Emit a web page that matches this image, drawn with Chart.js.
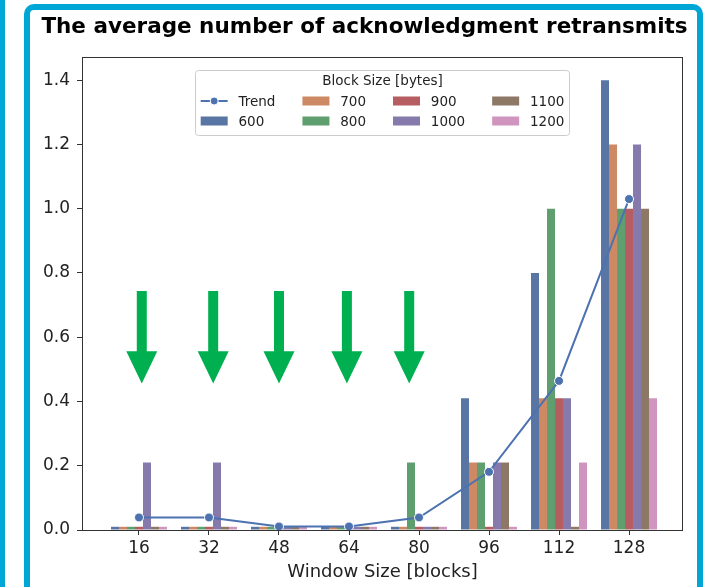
<!DOCTYPE html>
<html>
<head>
<meta charset="utf-8">
<script src="https://cdn.jsdelivr.net/npm/chart.js@4.4.1/dist/chart.umd.min.js"></script>
<style>
	html, body { margin:0; padding:0; background:#fff; }
	body { width:710px; height:587px; overflow:hidden; position:relative; }
	.side { position:absolute; left:0; top:0; width:5px; height:587px; background:#00a6d6; }
	.frame { position:absolute; left:24px; top:4px; width:679px; height:640px; border:6px solid #00a6d6; border-radius:10px; box-sizing:border-box; }
	#chart { position:absolute; left:0; top:0; }
</style>
</head>
<body>
<div class='side'></div>
<div class='frame'></div>
<canvas id='chart' width='710' height='587'></canvas>
<script>
const chartTitle = 'The average number of acknowledgment retransmits'
const windowSizes = ['16', '32', '48', '64', '80', '96', '112', '128']
const blockSizes = ['600', '700', '800', '900', '1000', '1100', '1200']
const yTicks = [0, 0.2, 0.4, 0.6, 0.8, 1.0, 1.2, 1.4]

// retransmits per block size, one value per window size
const bytes600 = [0.01, 0.01, 0.01, 0.01, 0.01, 0.41, 0.80, 1.40]
const bytes700 = [0.01, 0.01, 0.01, 0.01, 0.01, 0.21, 0.41, 1.20]
const bytes800 = [0.01, 0.01, 0.01, 0.01, 0.21, 0.21, 1.00, 1.00]
const bytes900 = [0.01, 0.01, 0.01, 0.01, 0.01, 0.01, 0.41, 1.00]
const bytes1000 = [0.21, 0.21, 0.01, 0.01, 0.01, 0.21, 0.41, 1.20]
const bytes1100 = [0.01, 0.01, 0.01, 0.01, 0.01, 0.21, 0.01, 1.00]
const bytes1200 = [0.01, 0.01, 0.01, 0.01, 0.01, 0.01, 0.21, 0.41]
const trend = [0.039, 0.039, 0.011, 0.011, 0.039, 0.181, 0.464, 1.03]

// green arrows (slide annotation), in data units
const arrowX = [0.04, 1.06, 2.0, 2.97, 3.86]
const arrowTop = 0.744
const arrowNeck = 0.556
const arrowTip = 0.456

const barColors = ['#5975a4', '#cc8963', '#5f9e6e', '#b55d60', '#857aab', '#8d7866', '#d095bf']
const barSeries = [bytes600, bytes700, bytes800, bytes900, bytes1000, bytes1100, bytes1200]

const FONT = '"DejaVu Sans", sans-serif'
const TEXT = '#222'

const toPoints = arr => arr.map((v, i) => ({ x:i, y:v }))

const datasets = [
	{
		type:'line',
		label:'Trend',
		data:toPoints(trend),
		borderColor:'#4c72b0',
		backgroundColor:'#4c72b0',
		borderWidth:2,
		pointRadius:4.5,
		pointBackgroundColor:'#4c72b0',
		pointBorderColor:'#fff',
		pointBorderWidth:1,
		tension:0
	}
]
blockSizes.forEach((size, i) => {
	datasets.push({
		type:'bar',
		label:size,
		data:toPoints(barSeries[i]),
		backgroundColor:barColors[i],
		borderWidth:0,
		categoryPercentage:0.8,
		barPercentage:1
	})
})

// title sits a bit left of the axes centre, as on the slide
const slideTitle = {
	id:'slideTitle',
	afterDraw(chart){
		const { ctx, chartArea:a } = chart
		ctx.save()
		ctx.font = `bold 21.5px ${FONT}`
		ctx.fillStyle = '#000'
		ctx.textAlign = 'center'
		ctx.textBaseline = 'middle'
		ctx.fillText(chartTitle, (a.right + 46) / 2, 27)
		ctx.restore()
	}
}

const frameBox = {
	id:'frameBox',
	afterDatasetsDraw(chart){
		const { ctx, chartArea:a } = chart
		ctx.save()
		ctx.strokeStyle = '#333'
		ctx.lineWidth = 1
		ctx.strokeRect(a.left + 0.5, a.top + 0.5, a.right - a.left - 1, a.bottom - a.top)
		ctx.restore()
	}
}

const blockLegend = {
	id:'blockLegend',
	afterDraw(chart){
		const { ctx, chartArea:a } = chart
		const fs = 13.5
		const items = chart.data.datasets.map(ds => ({ label:ds.label, color:ds.backgroundColor, line:ds.type === 'line' }))
		const rows = 2
		const cols = Math.ceil(items.length / rows)
		const handleLen = 2 * fs, textPad = 0.8 * fs, colSpace = 2 * fs, pad = 0.4 * fs

		ctx.save()
		ctx.font = `${fs}px ${FONT}`
		const colW = []
		for(let c = 0; c < cols; c++){
			let w = 0
			for(let r = 0; r < rows; r++){
				const it = items[c * rows + r]
				if(it) w = Math.max(w, ctx.measureText(it.label).width)
			}
			colW.push(w)
		}
		let boxW = pad * 2 + colSpace * (cols - 1)
		for(const w of colW) boxW += handleLen + textPad + w
		const boxH = 65
		const bx = (a.left + a.right) / 2 - boxW / 2
		const by = a.top + 13

		ctx.fillStyle = 'rgba(255,255,255,0.85)'
		ctx.strokeStyle = '#cccccc'
		ctx.lineWidth = 1
		ctx.beginPath()
		ctx.roundRect(Math.round(bx) + 0.5, Math.round(by) + 0.5, Math.round(boxW), boxH, 3)
		ctx.fill()
		ctx.stroke()

		ctx.fillStyle = TEXT
		ctx.textAlign = 'center'
		ctx.textBaseline = 'middle'
		ctx.fillText('Block Size [bytes]', bx + boxW / 2, by + 11)

		ctx.textAlign = 'left'
		let x = bx + pad
		for(let c = 0; c < cols; c++){
			for(let r = 0; r < rows; r++){
				const it = items[c * rows + r]
				if(!it) continue
				const y = by + 31 + r * 20
				if(it.line){
					ctx.strokeStyle = it.color
					ctx.lineWidth = 2
					ctx.beginPath()
					ctx.moveTo(x, y)
					ctx.lineTo(x + handleLen, y)
					ctx.stroke()
					ctx.fillStyle = it.color
					ctx.strokeStyle = '#fff'
					ctx.lineWidth = 1
					ctx.beginPath()
					ctx.arc(x + handleLen / 2, y, 4, 0, Math.PI * 2)
					ctx.fill()
					ctx.stroke()
				}else{
					ctx.fillStyle = it.color
					ctx.fillRect(x, y - 4.5, handleLen, 9)
				}
				ctx.fillStyle = TEXT
				ctx.fillText(it.label, x + handleLen + textPad, y + 1)
			}
			x += handleLen + textPad + colW[c] + colSpace
		}
		ctx.restore()
	}
}

const greenArrows = {
	id:'greenArrows',
	afterDraw(chart){
		const { ctx } = chart
		const xs = chart.scales.x, ys = chart.scales.y
		const yTop = ys.getPixelForValue(arrowTop)
		const yNeck = ys.getPixelForValue(arrowNeck)
		const yTip = ys.getPixelForValue(arrowTip)
		ctx.save()
		ctx.fillStyle = '#00b050'
		for(const v of arrowX){
			const cx = xs.getPixelForValue(v)
			ctx.beginPath()
			ctx.moveTo(cx - 5, yTop)
			ctx.lineTo(cx + 5, yTop)
			ctx.lineTo(cx + 5, yNeck)
			ctx.lineTo(cx + 15.5, yNeck)
			ctx.lineTo(cx, yTip)
			ctx.lineTo(cx - 15.5, yNeck)
			ctx.lineTo(cx - 5, yNeck)
			ctx.closePath()
			ctx.fill()
		}
		ctx.restore()
	}
}

new Chart(document.getElementById('chart'), {
	type:'bar',
	data:{ datasets },
	plugins:[frameBox, slideTitle, blockLegend, greenArrows],
	options:{
		responsive:false,
		animation:false,
		layout:{ padding:{ left:0, right:27, top:57, bottom:1 } },
		plugins:{
			legend:{ display:false },
			tooltip:{ enabled:false },
			title:{ display:false }
		},
		scales:{
			x:{
				type:'linear',
				min:-0.814,
				max:7.771,
				offset:false,
				afterBuildTicks: axis => { axis.ticks = windowSizes.map((_, i) => ({ value:i })) },
				grid:{ display:true, drawOnChartArea:false, offset:false, tickLength:5, color:'#333' },
				border:{ display:false },
				ticks:{
					color:TEXT,
					padding:3,
					maxRotation:0,
					autoSkip:false,
					font:{ family:FONT, size:17 },
					callback: value => windowSizes[value]
				},
				title:{
					display:true,
					text:'Window Size [blocks]',
					color:TEXT,
					font:{ family:FONT, size:18 },
					padding:{ top:0, bottom:3 }
				}
			},
			y:{
				min:0,
				max:1.472,
				afterBuildTicks: axis => { axis.ticks = yTicks.map(v => ({ value:v })) },
				afterFit: scale => { scale.width = 82 },
				grid:{ display:true, drawOnChartArea:false, tickLength:5, color:'#333' },
				border:{ display:false },
				ticks:{
					color:TEXT,
					padding:7,
					font:{ family:FONT, size:17 },
					callback: value => Number(value).toFixed(1)
				}
			}
		}
	}
})
</script>
</body>
</html>
